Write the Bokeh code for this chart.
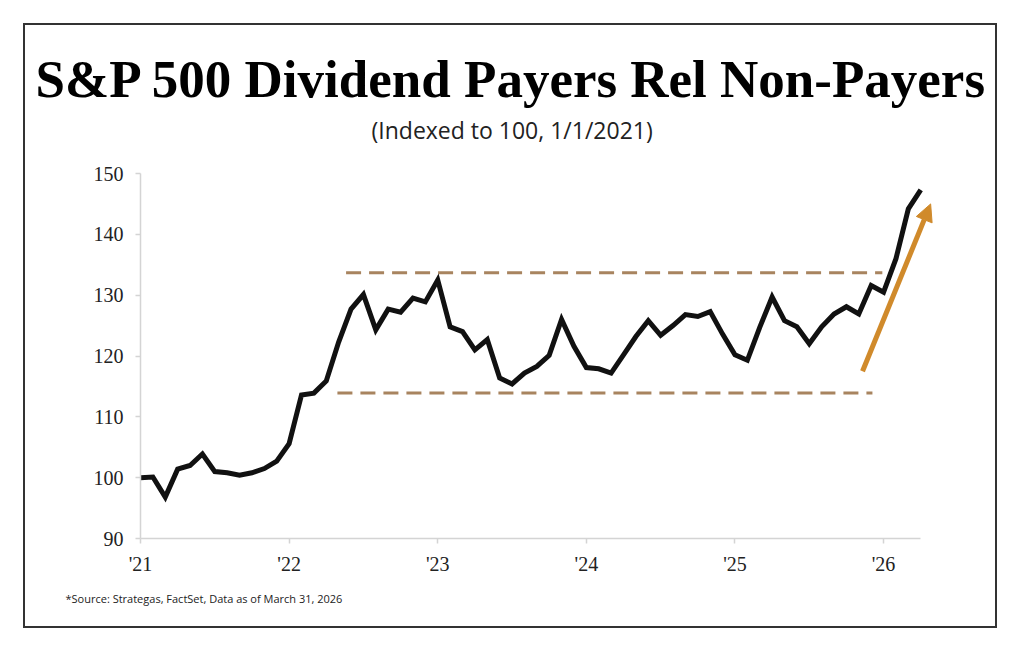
from bokeh.plotting import figure
from bokeh.models import (Range1d, FixedTicker, Title, Arrow, NormalHead, ColumnDataSource)
from bokeh.embed import file_html
from bokeh.resources import INLINE

# ---------------- data ----------------
month_index = list(range(64))  # months since Jan 2021
values = [100.0, 100.1, 96.8, 101.4, 102.0, 103.9, 101.0, 100.8, 100.4, 100.8,
          101.5, 102.7, 105.6, 113.6, 113.9, 115.9, 122.3, 127.7, 130.1, 124.3,
          127.7, 127.2, 129.5, 128.9, 132.5, 124.8, 124.0, 121.0, 122.7, 116.4,
          115.4, 117.2, 118.3, 120.1, 126.0, 121.6, 118.1, 117.9, 117.2, 120.2,
          123.2, 125.8, 123.4, 125.0, 126.8, 126.5, 127.3, 123.6, 120.2, 119.3,
          124.7, 129.7, 125.8, 124.8, 122.0, 124.8, 126.9, 128.1, 126.9, 131.6,
          130.5, 136.0, 144.2, 147.3]
year_ticks = [0, 12, 24, 36, 48, 60]
year_labels = ["'21", "'22", "'23", "'24", "'25", "'26"]
y_ticks = [90, 100, 110, 120, 130, 140, 150]

band_levels = [133.7, 113.9]
band_start = [16.6, 15.9]
band_end = [59.9, 59.1]

arrow_start = (58.3, 117.5)
arrow_end = (63.8, 145.0)

title_text = "S&P 500 Dividend Payers Rel Non-Payers"
subtitle_text = "(Indexed to 100, 1/1/2021)"
source_text = "*Source: Strategas, FactSet, Data as of March 31, 2026"

# ---------------- layout ----------------
W, H = 974, 605
X0, X1 = 0, 65
Y0, Y1 = 90, 150
BL, BR, BT, BB = 115, 54, 148, 92

p = figure(width=W, height=H, output_backend="svg", toolbar_location=None,
           x_range=Range1d(X0, X1), y_range=Range1d(Y0, Y1),
           min_border_left=BL, min_border_right=BR, min_border_top=BT, min_border_bottom=BB)
p.styles = {"border": "2px solid #333333", "margin-left": "23px", "margin-top": "23px"}
p.outline_line_color = None
p.xgrid.visible = False
p.ygrid.visible = False
p.background_fill_color = "white"
p.border_fill_color = "white"

axis_color = "#d4d4d4"
for ax in (p.xaxis[0], p.yaxis[0]):
    ax.axis_line_color = axis_color
    ax.axis_line_width = 1.5
    ax.major_tick_line_color = axis_color
    ax.major_tick_line_width = 1.5
    ax.major_tick_in = 0
    ax.major_tick_out = 5
    ax.minor_tick_line_color = None
    ax.major_label_text_font = "Liberation Serif"
    ax.major_label_text_font_size = "20px"
    ax.major_label_text_color = "#222222"

p.xaxis[0].ticker = FixedTicker(ticks=year_ticks)
p.xaxis[0].major_label_overrides = {t: l for t, l in zip(year_ticks, year_labels)}
p.xaxis[0].bounds = (0, 63)
p.xaxis[0].major_label_standoff = 9
p.yaxis[0].ticker = FixedTicker(ticks=y_ticks)
p.yaxis[0].major_label_standoff = 12

# band lines
for lvl, s, e in zip(band_levels, band_start, band_end):
    p.line([s, e], [lvl, lvl], line_color="#a8845f", line_width=3, line_dash="15 8")

# main series
src = ColumnDataSource(dict(x=month_index, y=values))
p.line("x", "y", source=src, line_color="#111111", line_width=5, line_join="miter")

# arrow
orange = "#d08a2b"
p.add_layout(Arrow(end=NormalHead(size=17, fill_color=orange, line_color=orange),
                   x_start=arrow_start[0], y_start=arrow_start[1],
                   x_end=arrow_end[0], y_end=arrow_end[1],
                   line_color=orange, line_width=5))

# texts
p.add_layout(Title(text=subtitle_text, align="left", offset=231, text_font="Open Sans",
                   text_font_size="23px", text_font_style="normal",
                   text_color="#222222", standoff=56), "above")
p.add_layout(Title(text=title_text, align="left", offset=-105, text_font="Liberation Serif",
                   text_font_size="53px", text_font_style="bold",
                   text_color="#000000", standoff=-48), "above")
p.add_layout(Title(text=source_text, align="left", offset=-75, text_font="Open Sans",
                   text_font_size="11px", text_font_style="normal",
                   text_color="#222222", standoff=22), "below")

open("out.html", "w").write(file_html(p, INLINE))
